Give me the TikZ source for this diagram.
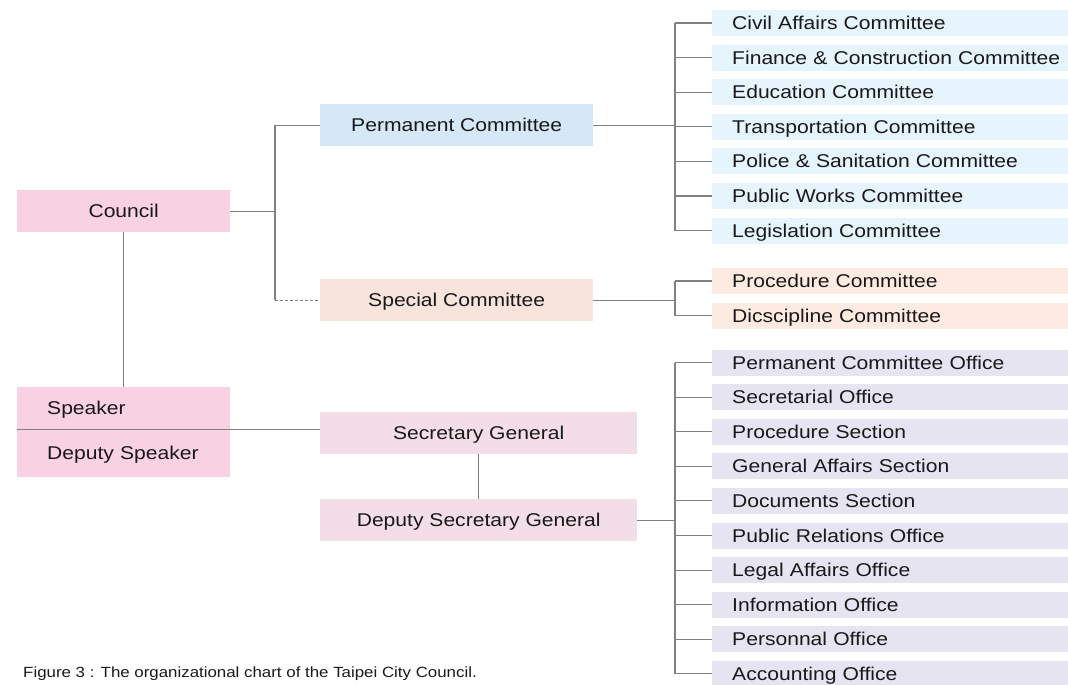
\documentclass[tikz,border=0pt]{standalone}
\usepackage{fontspec}
\setmainfont{Liberation Sans}[FakeStretch=1.14]
\definecolor{pinkA}{HTML}{F8D1E3}
\definecolor{pinkB}{HTML}{F3DDE7}
\definecolor{blueA}{HTML}{D5E8F5}
\definecolor{blueB}{HTML}{E6F4FD}
\definecolor{peachA}{HTML}{F7E4DC}
\definecolor{peachB}{HTML}{FDEBE2}
\definecolor{lav}{HTML}{E6E4F1}
\definecolor{lineg}{HTML}{808080}
\begin{document}
\begin{tikzpicture}[x=1pt,y=-1pt,
  ln/.style={draw=lineg, line width=1.1pt},
  txt/.style={font=\fontsize{18.5}{22}\selectfont, text=black!90, text height=15pt, text depth=2pt},
  cbox/.style={txt, rectangle, inner sep=0pt, anchor=north west},
  lbox/.style={txt, rectangle, inner sep=0pt, anchor=west, minimum width=356pt,
    text width=356pt, minimum height=26pt, align=left}
]
\useasboundingbox (0,0) rectangle (1068,685);
\clip (0,0) rectangle (1068,685);
% main boxes
\node[cbox, fill=pinkA, minimum width=213pt, minimum height=42pt] (council) at (17,190) {Council};
\node[cbox, fill=blueA, minimum width=273pt, minimum height=42pt] (perm) at (320,104) {Permanent Committee};
\node[cbox, fill=peachA, minimum width=273pt, minimum height=42pt] (spec) at (320,279) {Special Committee};
\node[cbox, fill=pinkA, minimum width=213pt, text width=213pt, align=left, minimum height=42pt] (speaker) at (17,387) {\hspace*{30pt}Speaker};
\node[cbox, fill=pinkA, minimum width=213pt, text width=213pt, align=left, minimum height=48pt] (deputy) at (17,429) {\hspace*{30pt}Deputy Speaker};
\node[cbox, fill=pinkB, minimum width=317pt, minimum height=42pt] (secgen) at (320,412) {Secretary General};
\node[cbox, fill=pinkB, minimum width=317pt, minimum height=42pt] (depsec) at (320,499) {Deputy Secretary General};
% committees
\foreach \t [count=\i from 0] in {Civil Affairs Committee, Finance \& Construction Committee, Education Committee, Transportation Committee, Police \& Sanitation Committee, Public Works Committee, Legislation Committee}{
  \node[lbox, fill=blueB] (c\i) at (712, 23+34.6*\i) {\hspace*{20pt}\t};
}
\node[lbox, fill=peachB] (p0) at (712,281) {\hspace*{20pt}Procedure Committee};
\node[lbox, fill=peachB] (p1) at (712,315.5) {\hspace*{20pt}Dicscipline Committee};
\foreach \t [count=\i from 0] in {Permanent Committee Office, Secretarial Office, Procedure Section, General Affairs Section, Documents Section, Public Relations Office, Legal Affairs Office, Information Office, Personnal Office, Accounting Office}{
  \node[lbox, fill=lav] (o\i) at (712, 362.5+34.6*\i) {\hspace*{20pt}\t};
}
% junction coordinates
\coordinate (j1) at (275,212);
\coordinate (j2) at (675,126);
\coordinate (j3) at (675,520);
% connectors
\draw[ln] (council.south) -- (speaker.north);
\draw[ln] (council.east) -- (council.east -| j1);
\draw[ln] (perm.west) -- (perm.west -| j1) -- (spec.west -| j1);
\draw[ln, dashed, dash pattern=on 3pt off 2pt, line width=0.9pt] (spec.west -| j1) -- (spec.west);
\draw[ln] (speaker.south west) -- (speaker.south west -| secgen.west);
\draw[ln] (secgen.south) -- (depsec.north);
\draw[ln] (perm.east) -- (perm.east -| j2);
\draw[ln] (c0.west -| j2) -- (c6.west -| j2);
\foreach \i in {0,...,6}{ \draw[ln] (c\i.west -| j2) -- (c\i.west); }
\draw[ln] (spec.east) -- (spec.east -| j2);
\draw[ln] (p0.west -| j2) -- (p1.west -| j2);
\foreach \i in {0,1}{ \draw[ln] (p\i.west -| j2) -- (p\i.west); }
\draw[ln] (depsec.east) -- (depsec.east -| j3);
\draw[ln] (o0.west -| j3) -- (o9.west -| j3);
\foreach \i in {0,...,9}{ \draw[ln] (o\i.west -| j3) -- (o\i.west); }
% caption
\node[anchor=base west, inner sep=0pt, font=\fontsize{14.8}{18}\selectfont, text=black!90] (cap) at (23,677) {Figure 3 : The organizational chart of the Taipei City Council.};
\end{tikzpicture}
\end{document}
